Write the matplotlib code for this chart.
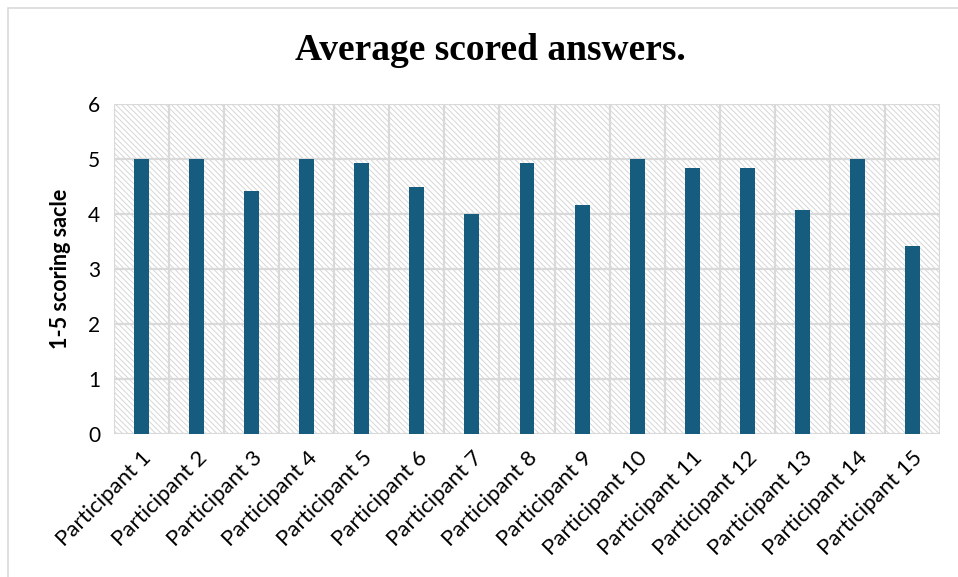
import matplotlib
matplotlib.use("Agg")
import matplotlib.pyplot as plt
from matplotlib.patches import Rectangle
import numpy as np

categories = [f"Participant {i}" for i in range(1, 16)]
values = [5.0, 5.0, 4.42, 5.0, 4.92, 4.5, 4.0, 4.92, 4.17, 5.0, 4.83, 4.83, 4.08, 5.0, 3.42]
yticks = [0, 1, 2, 3, 4, 5, 6]

plt.rcParams['hatch.color'] = '#d6d6d6'
plt.rcParams['hatch.linewidth'] = 0.7

fig = plt.figure(figsize=(9.58, 5.77), dpi=100)
ax = fig.add_axes([114/958, 1-434/577, (940-114)/958, (434-104)/577])

x = np.arange(len(categories))
ax.set_xlim(-0.5, len(categories) - 0.5)
ax.set_ylim(0, 6)

# hatched background
bg = Rectangle((0, 0), 1, 1, transform=ax.transAxes, facecolor='white',
               edgecolor='#d6d6d6', hatch='\\\\\\\\\\\\', lw=0, zorder=0)
ax.add_patch(bg)

# gridlines
for yv in yticks:
    ax.axhline(yv, color='#d9d9d9', lw=1.6, zorder=1)
for xv in np.arange(-0.5, len(categories) + 0.5, 1):
    ax.axvline(xv, color='#d9d9d9', lw=1.6, zorder=1)

ax.bar(x, values, width=0.27, color='#155c7f', zorder=3)

for s in ax.spines.values():
    s.set_visible(False)

ax.set_yticks(yticks)
ax.set_yticklabels([str(v) for v in yticks], fontsize=15, family='Lato')
ax.set_xticks(x)
ax.set_xticklabels(categories, rotation=45, ha='right', rotation_mode='anchor',
                   fontsize=16, family='Lato')
ax.tick_params(length=0, pad=10)
ax.tick_params(axis='x', pad=10)

ax.set_ylabel("1-5 scoring sacle", fontsize=15.5, fontweight='bold', family='Lato',
              labelpad=12)
fig.text(490/958, 1-51/577, "Average scored answers.", ha='center', va='center',
         fontsize=27, fontweight='bold', family='Liberation Serif')

# figure border
fig.patches.append(Rectangle((8/958, -0.1), 2, 1.1 - 8/577, transform=fig.transFigure,
                             fill=False, edgecolor='#d9d9d9', lw=1.2))

fig.savefig("out.png", dpi=100)
